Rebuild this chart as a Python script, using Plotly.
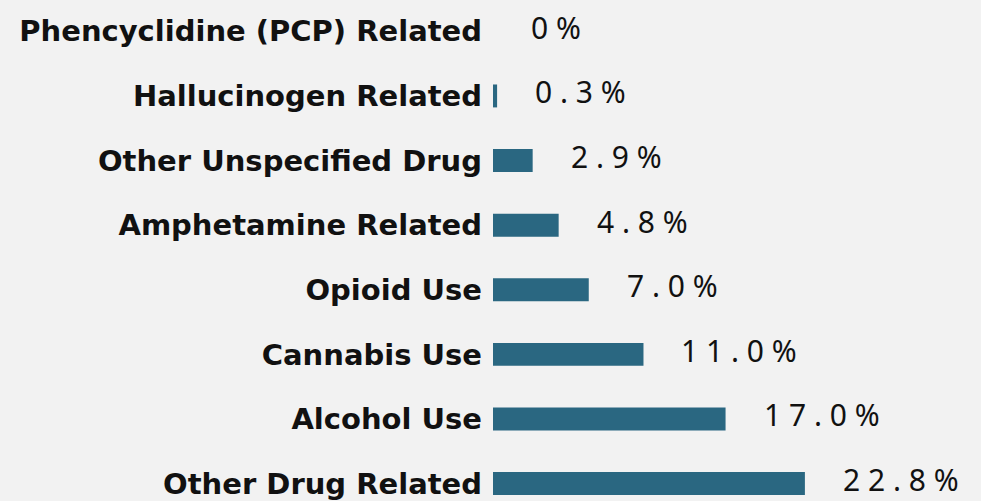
import plotly.graph_objects as go

categories = [
    "Phencyclidine (PCP) Related",
    "Hallucinogen Related",
    "Other Unspecified Drug",
    "Amphetamine Related",
    "Opioid Use",
    "Cannabis Use",
    "Alcohol Use",
    "Other Drug Related",
]
values = [0, 0.3, 2.9, 4.8, 7.0, 11.0, 17.0, 22.8]


def fmt(v):
    s = "0" if v == 0 else f"{v:.1f}"
    return " ".join(s) + " %"


labels = [fmt(v) for v in values]

fig = go.Figure(
    go.Bar(
        y=categories,
        x=values,
        orientation="h",
        marker=dict(color="#2a6781", line=dict(width=0)),
        width=0.355,
        hoverinfo="skip",
    )
)

for cat, v, lab in zip(categories, values, labels):
    fig.add_annotation(
        x=v,
        y=cat,
        xref="x",
        yref="y",
        text=lab,
        showarrow=False,
        xanchor="left",
        yanchor="middle",
        xshift=36,
        yshift=4,
        font=dict(family="Noto Sans", size=30, color="#111111"),
    )

fig.update_layout(
    width=981,
    height=501,
    paper_bgcolor="#f2f2f2",
    plot_bgcolor="#f2f2f2",
    margin=dict(l=493, r=146, t=0, b=0),
    showlegend=False,
)
fig.update_xaxes(
    range=[0, 25],
    showticklabels=False,
    showgrid=False,
    zeroline=False,
    showline=False,
    ticks="",
)
fig.update_yaxes(
    type="category",
    categoryorder="array",
    categoryarray=categories,
    range=[7.223, -0.485],
    showgrid=False,
    zeroline=False,
    showline=False,
    ticks="",
    ticklabelstandoff=10,
    tickfont=dict(family="DejaVu Sans", size=29, color="#111111", weight=700),
)

fig.write_html(
    "out.html",
    config={"displayModeBar": False},
    post_script="document.body.style.margin='0';document.body.style.background='#f2f2f2';",
)
